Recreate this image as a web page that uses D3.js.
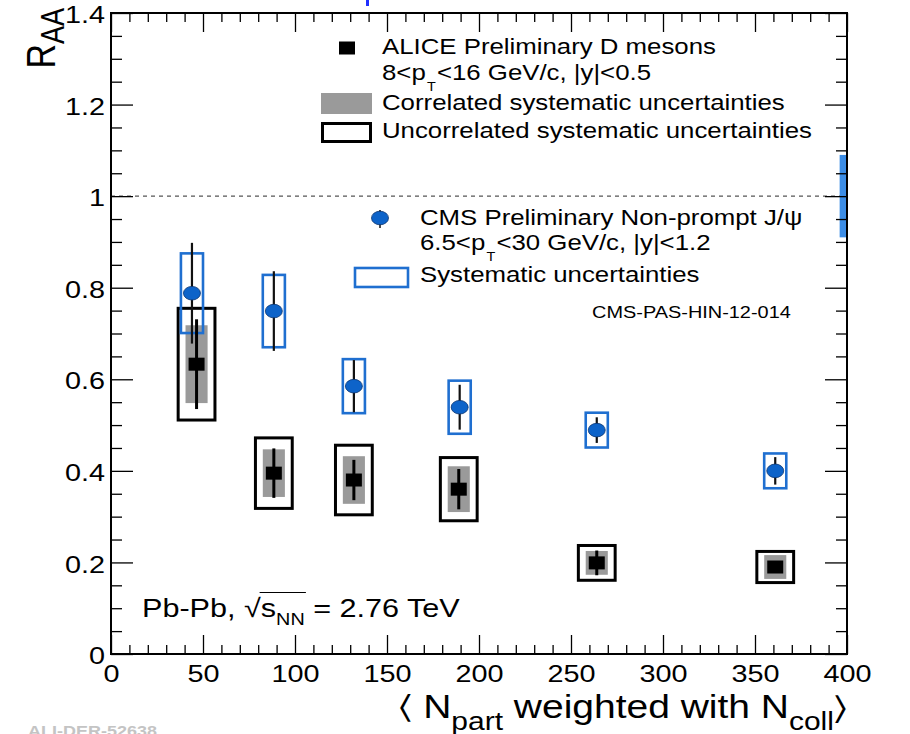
<!DOCTYPE html>
<html>
<head>
<meta charset="utf-8">
<script src="https://cdn.jsdelivr.net/npm/d3@7"></script>
<style>
  body { margin: 0; background: #fff; }
  text { font-family: "Liberation Sans", Arial, Helvetica, sans-serif; fill: #000; }
</style>
</head>
<body>
<svg id="chart" width="910" height="734"></svg>
<script>
// ALICE D mesons, 8<pT<16 GeV/c
const nPartAlice = [46.5, 88.5, 132, 189, 264, 361];
const raaAlice = [0.633, 0.395, 0.38, 0.36, 0.199, 0.19];
const statAlice = [0.098, 0.054, 0.044, 0.044, 0.027, 0.012];
const corrSystAlice = [0.085, 0.052, 0.052, 0.05, 0.026, 0.026];
const uncorrSystAlice = [0.122, 0.077, 0.076, 0.069, 0.038, 0.034];

// CMS non-prompt J/psi, 6.5<pT<30 GeV/c
const nPartCms = [44, 88.5, 132, 189.5, 264, 361];
const raaCms = [0.788, 0.749, 0.585, 0.539, 0.489, 0.40];
const statCms = [0.11, 0.087, 0.057, 0.049, 0.028, 0.03];
const systCms = [0.087, 0.079, 0.059, 0.058, 0.038, 0.038];
const cmsGlobalUnc = 0.09;

const xTicks = [0, 50, 100, 150, 200, 250, 300, 350, 400];
const xTickLabels = ["0", "50", "100", "150", "200", "250", "300", "350", "400"];
const yTicks = [0, 0.2, 0.4, 0.6, 0.8, 1, 1.2, 1.4];
const yTickLabels = ["0", "0.2", "0.4", "0.6", "0.8", "1", "1.2", "1.4"];

const W = 910, H = 734;
const margin = { left: 111, top: 13, right: 63, bottom: 80 };
const pw = W - margin.left - margin.right;
const ph = H - margin.top - margin.bottom;
const SX = 1.2; // glyphs are drawn a little wide, like the ROOT canvas export

const BLUE = "#1f6fd0";
const BLUE_FILL = "#0d63c9";
const GRAY = "#9a9a9a";

const svg = d3.select("#chart");
svg.append("rect").attr("width", W).attr("height", H).attr("fill", "#fff");

const x = d3.scaleLinear().domain([0, 400]).range([0, pw]);
const y = d3.scaleLinear().domain([0, 1.4]).range([ph, 0]);

const g = svg.append("g").attr("transform", `translate(${margin.left},${margin.top})`);

// helper: text block stretched horizontally, made of runs (sub/superscripts as dy shifts)
function runs(parent, px, py, anchor, parts) {
  const t = parent.append("text")
    .attr("transform", `translate(${px},${py}) scale(${SX},1)`)
    .attr("text-anchor", anchor);
  parts.forEach(p => {
    const s = t.append("tspan").attr("font-size", p.size).attr("dy", p.dy || 0).text(p.t);
    if (p.dx) s.attr("dx", p.dx);
  });
  return t;
}

// unity reference line
g.append("line")
  .attr("x1", 0).attr("x2", pw)
  .attr("y1", y(1)).attr("y2", y(1))
  .attr("stroke", "#555").attr("stroke-width", 1.1)
  .attr("stroke-dasharray", "4,4");

// CMS global normalisation uncertainty
g.append("rect")
  .attr("x", x(396)).attr("width", x(400) - x(396))
  .attr("y", y(1 + cmsGlobalUnc)).attr("height", y(1 - cmsGlobalUnc) - y(1 + cmsGlobalUnc))
  .attr("fill", "#3c8de6");

const alice = nPartAlice.map((n, i) => ({
  n, v: raaAlice[i], stat: statAlice[i], corr: corrSystAlice[i], unc: uncorrSystAlice[i]
}));
const cms = nPartCms.map((n, i) => ({ n, v: raaCms[i], stat: statCms[i], syst: systCms[i] }));

// ALICE uncorrelated systematics (open boxes)
g.append("g").selectAll("rect").data(alice).join("rect")
  .attr("x", d => x(d.n - 10)).attr("width", x(20) - x(0))
  .attr("y", d => y(d.v + d.unc)).attr("height", d => y(d.v - d.unc) - y(d.v + d.unc))
  .attr("fill", "none").attr("stroke", "#000").attr("stroke-width", 3);

// ALICE correlated systematics (filled grey)
g.append("g").selectAll("rect").data(alice).join("rect")
  .attr("x", d => x(d.n - 6)).attr("width", x(12) - x(0))
  .attr("y", d => y(d.v + d.corr)).attr("height", d => y(d.v - d.corr) - y(d.v + d.corr))
  .attr("fill", GRAY);

// CMS systematics (open blue boxes)
g.append("g").selectAll("rect").data(cms).join("rect")
  .attr("x", d => x(d.n - 6)).attr("width", x(12) - x(0))
  .attr("y", d => y(d.v + d.syst)).attr("height", d => y(d.v - d.syst) - y(d.v + d.syst))
  .attr("fill", "none").attr("stroke", BLUE).attr("stroke-width", 2.6);

// statistical errors
g.append("g").selectAll("line").data(alice).join("line")
  .attr("x1", d => x(d.n)).attr("x2", d => x(d.n))
  .attr("y1", d => y(d.v + d.stat)).attr("y2", d => y(d.v - d.stat))
  .attr("stroke", "#000").attr("stroke-width", 3);
g.append("g").selectAll("rect").data(alice).join("rect")
  .attr("x", d => x(d.n) - 8).attr("y", d => y(d.v) - 6.5)
  .attr("width", 16).attr("height", 13).attr("fill", "#000");

g.append("g").selectAll("line").data(cms).join("line")
  .attr("x1", d => x(d.n)).attr("x2", d => x(d.n))
  .attr("y1", d => y(d.v + d.stat)).attr("y2", d => y(d.v - d.stat))
  .attr("stroke", "#111").attr("stroke-width", 2.2);
g.append("g").selectAll("ellipse").data(cms).join("ellipse")
  .attr("cx", d => x(d.n)).attr("cy", d => y(d.v))
  .attr("rx", 8.5).attr("ry", 6.8)
  .attr("fill", BLUE_FILL).attr("stroke", "#0a3370").attr("stroke-width", 0.8);

// axes: ROOT style, ticks pointing inwards on all four sides
const xMinor = d3.range(0, 401, 10).filter(v => v % 50 !== 0);
const yMinor = d3.range(0, 1.401, 0.05).map(v => +v.toFixed(2)).filter(v => Math.abs(v / 0.2 - Math.round(v / 0.2)) > 1e-6);

function styleAxis(sel) {
  sel.select(".domain").remove();
  sel.selectAll("line").attr("stroke", "#000").attr("stroke-width", 1.3);
}

const xAxis = g.append("g").attr("transform", `translate(0,${ph})`)
  .call(d3.axisBottom(x).tickValues(xTicks).tickFormat((d, i) => xTickLabels[i]).tickSize(-19).tickSizeOuter(0));
xAxis.call(styleAxis);
xAxis.selectAll("text")
  .attr("y", 28).attr("dy", null)
  .attr("font-size", 24).attr("transform", `scale(${SX},1)`);
g.append("g").attr("transform", `translate(0,${ph})`)
  .call(d3.axisBottom(x).tickValues(xMinor).tickFormat("").tickSize(-9).tickSizeOuter(0)).call(styleAxis);
g.append("g").call(d3.axisTop(x).tickValues(xTicks).tickFormat("").tickSize(-19).tickSizeOuter(0)).call(styleAxis);
g.append("g").call(d3.axisTop(x).tickValues(xMinor).tickFormat("").tickSize(-9).tickSizeOuter(0)).call(styleAxis);

const yAxis = g.append("g")
  .call(d3.axisLeft(y).tickValues(yTicks).tickFormat((d, i) => yTickLabels[i]).tickSize(-22).tickSizeOuter(0));
yAxis.call(styleAxis);
yAxis.selectAll("text")
  .attr("x", -5).attr("dy", "0.4em")
  .attr("font-size", 24).attr("transform", `scale(${SX},1)`);
g.append("g").call(d3.axisLeft(y).tickValues(yMinor).tickFormat("").tickSize(-11).tickSizeOuter(0)).call(styleAxis);
g.append("g").attr("transform", `translate(${pw},0)`)
  .call(d3.axisRight(y).tickValues(yTicks).tickFormat("").tickSize(-22).tickSizeOuter(0)).call(styleAxis);
g.append("g").attr("transform", `translate(${pw},0)`)
  .call(d3.axisRight(y).tickValues(yMinor).tickFormat("").tickSize(-11).tickSizeOuter(0)).call(styleAxis);

// frame
g.append("rect").attr("width", pw).attr("height", ph)
  .attr("fill", "none").attr("stroke", "#000").attr("stroke-width", 2);

// axis titles
svg.append("text")
  .attr("transform", `translate(55,8) scale(${SX},1) rotate(-90)`)
  .attr("text-anchor", "end")
  .call(t => {
    t.append("tspan").attr("font-size", 34).text("R");
    t.append("tspan").attr("font-size", 27).attr("dy", 7.5).text("AA");
  });

runs(svg, margin.left + pw, 718, "end", [
  { t: "\u2329 N", size: 32.5 },
  { t: "part", size: 25, dy: 12 },
  { t: " weighted with N", size: 32.5, dy: -12 },
  { t: "coll", size: 25, dy: 12 },
  { t: "\u232A", size: 32.5, dy: -12 }
]);

// ALICE legend
const leg = svg.append("g");
leg.append("rect").attr("x", 339).attr("y", 41.5).attr("width", 16).attr("height", 13).attr("fill", "#000");
runs(leg, 382, 54, "start", [{ t: "ALICE Preliminary D mesons", size: 21.5 }]);
runs(leg, 382, 80, "start", [
  { t: "8<p", size: 21.5 }, { t: "T", size: 12, dy: 11, dx: 1 }, { t: "<16 GeV/c, |y|<0.5", size: 21.5, dy: -11, dx: 1 }
]);
leg.append("rect").attr("x", 321).attr("y", 93).attr("width", 51).attr("height", 21).attr("fill", GRAY);
runs(leg, 382, 110, "start", [{ t: "Correlated systematic uncertainties", size: 21.5 }]);
leg.append("rect").attr("x", 322.5).attr("y", 123.5).attr("width", 48).attr("height", 18)
  .attr("fill", "none").attr("stroke", "#000").attr("stroke-width", 3);
runs(leg, 382, 138, "start", [{ t: "Uncorrelated systematic uncertainties", size: 21.5 }]);

// CMS legend
leg.append("line").attr("x1", 380).attr("x2", 380).attr("y1", 210).attr("y2", 228)
  .attr("stroke", "#111").attr("stroke-width", 1.5);
leg.append("ellipse").attr("cx", 380).attr("cy", 218).attr("rx", 8.5).attr("ry", 6.8)
  .attr("fill", BLUE_FILL).attr("stroke", "#0a3370").attr("stroke-width", 0.8);
runs(leg, 420, 225, "start", [{ t: "CMS Preliminary Non-prompt J/\u03C8", size: 21.5 }]);
runs(leg, 420, 250, "start", [
  { t: "6.5<p", size: 21.5 }, { t: "T", size: 12, dy: 11, dx: 1 }, { t: "<30 GeV/c, |y|<1.2", size: 21.5, dy: -11, dx: 1 }
]);
leg.append("rect").attr("x", 355).attr("y", 268).attr("width", 53).attr("height", 19)
  .attr("fill", "none").attr("stroke", BLUE).attr("stroke-width", 2.6);
runs(leg, 420, 282, "start", [{ t: "Systematic uncertainties", size: 21.5 }]);

runs(svg, 592, 318, "start", [{ t: "CMS-PAS-HIN-12-014", size: 16.6 }]);

// collision system label with a drawn radical overbar
const sys = svg.append("g").attr("transform", `translate(142,617) scale(${SX},1)`);
const sysText = sys.append("text");
[
  { t: "Pb-Pb, ", size: 25.5 }, { t: "\u221A", size: 25.5 }, { t: "s", size: 25.5 },
  { t: "NN", size: 16.5, dy: 8 }, { t: " = 2.76 TeV", size: 25.5, dy: -8 }
].forEach(p => sysText.append("tspan").attr("font-size", p.size).attr("dy", p.dy || 0).text(p.t));
const rootBox = sysText.node().getExtentOfChar(7);
const nnEnd = sysText.node().getExtentOfChar(10);
sys.append("line")
  .attr("x1", rootBox.x + rootBox.width - 1).attr("x2", nnEnd.x + nnEnd.width + 1)
  .attr("y1", -24.5).attr("y2", -24.5)
  .attr("stroke", "#000").attr("stroke-width", 1.2);

// stray bit of a clipped header above the frame
svg.append("rect").attr("x", 366).attr("y", 0).attr("width", 3).attr("height", 6).attr("fill", "#2030ff");

// figure id watermark
svg.append("text")
  .attr("transform", `translate(28,736) scale(${SX},1)`)
  .attr("font-family", "'Liberation Mono', 'DejaVu Sans Mono', monospace")
  .attr("font-weight", "bold").attr("font-size", 15)
  .style("fill", "#c4c4c4")
  .text("ALI-DER-52638");
</script>
</body>
</html>
